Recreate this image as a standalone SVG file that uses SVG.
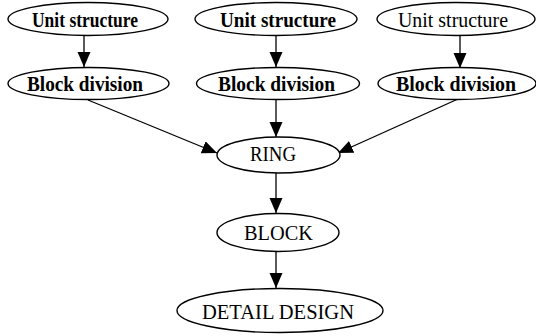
<svg xmlns="http://www.w3.org/2000/svg" width="536" height="336" viewBox="0 0 536 336">
  <style>
    .node ellipse { fill: #ffffff; stroke: #000000; stroke-width: 1.4; }
    .node text { font-family: "Liberation Serif", "Times New Roman", serif; fill: #000000; text-anchor: middle; }
    .b { font-weight: bold; font-size: 21px; }
    .r { font-weight: normal; font-size: 21px; }
    .cap { font-weight: normal; font-size: 20px; }
    #edges line { stroke: #000000; stroke-width: 1.3; fill: none; marker-end: url(#arrow); }
  </style>
  <defs>
    <marker id="arrow" markerUnits="userSpaceOnUse" markerWidth="16" markerHeight="14" refX="15" refY="6.5" orient="auto">
      <path d="M0,0 L15,6.5 L0,13 Z" fill="#000000"/>
    </marker>
  </defs>
  <rect width="536" height="336" fill="#ffffff"/>

  <g id="edges">
    <line x1="84" y1="35" x2="84" y2="67"/>
    <line x1="276" y1="35" x2="276" y2="67"/>
    <line x1="460" y1="35" x2="460" y2="68"/>
    <line x1="88" y1="100" x2="217" y2="153"/>
    <line x1="276" y1="100" x2="276" y2="137"/>
    <line x1="458" y1="99" x2="338" y2="153"/>
    <line x1="276" y1="173" x2="276" y2="213"/>
    <line x1="276" y1="251" x2="276" y2="288"/>
  </g>

  <g id="unit1" class="node">
    <ellipse cx="88" cy="19" rx="80" ry="16.5"/>
    <text x="85" y="27" class="b" textLength="106" lengthAdjust="spacingAndGlyphs">Unit structure</text>
  </g>
  <g id="unit2" class="node">
    <ellipse cx="276" cy="19" rx="81" ry="16.5"/>
    <text x="278" y="27" class="b" textLength="116" lengthAdjust="spacingAndGlyphs">Unit structure</text>
  </g>
  <g id="unit3" class="node">
    <ellipse cx="456" cy="19" rx="79" ry="16.5"/>
    <text x="453" y="27" class="r" textLength="110" lengthAdjust="spacingAndGlyphs">Unit structure</text>
  </g>

  <g id="block1" class="node">
    <ellipse cx="88.5" cy="83.5" rx="80.5" ry="16"/>
    <text x="85" y="91" class="b" textLength="116" lengthAdjust="spacingAndGlyphs">Block division</text>
  </g>
  <g id="block2" class="node">
    <ellipse cx="278" cy="83.5" rx="81.5" ry="16"/>
    <text x="276.5" y="91" class="b" textLength="117" lengthAdjust="spacingAndGlyphs">Block division</text>
  </g>
  <g id="block3" class="node">
    <ellipse cx="457" cy="83.5" rx="79" ry="16"/>
    <text x="456" y="91" class="b" textLength="120" lengthAdjust="spacingAndGlyphs">Block division</text>
  </g>

  <g id="ring" class="node">
    <ellipse cx="278.5" cy="155" rx="61.5" ry="18"/>
    <text x="273" y="161" class="cap" textLength="46" lengthAdjust="spacingAndGlyphs">RING</text>
  </g>
  <g id="block" class="node">
    <ellipse cx="278" cy="232.5" rx="61" ry="19"/>
    <text x="278.5" y="239.5" class="cap" textLength="69" lengthAdjust="spacingAndGlyphs">BLOCK</text>
  </g>
  <g id="detail" class="node">
    <ellipse cx="280" cy="310.5" rx="103" ry="22"/>
    <text x="278" y="319" class="cap" textLength="152" lengthAdjust="spacingAndGlyphs">DETAIL DESIGN</text>
  </g>
</svg>
